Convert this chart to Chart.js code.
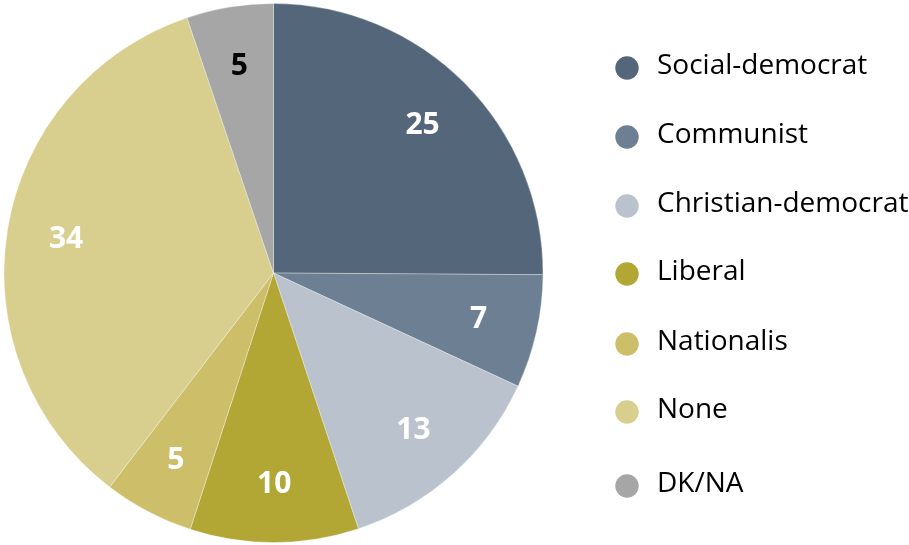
<!DOCTYPE html>
<html>
<head>
<meta charset="utf-8">
<script src="https://cdn.jsdelivr.net/npm/chart.js@4"></script>
<style>
html,body{margin:0;padding:0;background:#fff;}
#wrap{width:909px;height:545px;position:relative;}
</style>
</head>
<body>
<div id="wrap"><canvas id="c" width="909" height="545"></canvas></div>
<script>
const categories = ["Social-democrat","Communist","Christian-democrat","Liberal","Nationalis","None","DK/NA"];
const values = [25.1, 6.8, 13.0, 10.1, 5.4, 34.4, 5.2];
const shownLabels = ["25", "7", "13", "10", "5", "34", "5"];
const colors = ["#546679","#6d7f92","#bac3cd","#b2a634","#cdbf6a","#d8cf8e","#a6a6a6"];
const labelColors = ["#ffffff","#ffffff","#ffffff","#ffffff","#ffffff","#ffffff","#000000"];
const legendY = [66, 135, 204, 272, 342, 410, 484];
const FONT = "'Open Sans', Lato, sans-serif";

const sliceLabels = {
  id: 'sliceLabels',
  afterDatasetsDraw(chart) {
    const ctx = chart.ctx;
    const meta = chart.getDatasetMeta(0);
    ctx.save();
    ctx.font = "bold 30px " + FONT;
    ctx.textAlign = 'center';
    ctx.textBaseline = 'middle';
    meta.data.forEach((arc, i) => {
      const p = arc.getProps(['x','y','startAngle','endAngle','outerRadius'], true);
      const mid = (p.startAngle + p.endAngle) / 2;
      const r = p.outerRadius * 0.78;
      ctx.fillStyle = labelColors[i];
      ctx.fillText(shownLabels[i], p.x + Math.cos(mid) * r, p.y + Math.sin(mid) * r + 1);
    });
    ctx.restore();
  }
};

const customLegend = {
  id: 'customLegend',
  afterDraw(chart) {
    const ctx = chart.ctx;
    ctx.save();
    ctx.font = "28px " + FONT;
    ctx.textBaseline = 'middle';
    ctx.textAlign = 'left';
    chart.data.labels.forEach((lab, i) => {
      const y = legendY[i];
      ctx.beginPath();
      ctx.arc(627, y + 2, 11.7, 0, Math.PI * 2);
      ctx.fillStyle = colors[i];
      ctx.fill();
      ctx.fillStyle = '#000000';
      ctx.fillText(lab, 657, y);
    });
    ctx.restore();
  }
};

new Chart(document.getElementById('c'), {
  type: 'pie',
  data: {
    labels: categories,
    datasets: [{
      data: values,
      backgroundColor: colors,
      borderColor: 'rgba(255,255,255,0.3)',
      borderWidth: 1
    }]
  },
  options: {
    responsive: false,
    animation: false,
    layout: { padding: { left: 2, right: 364, top: 3, bottom: 2 } },
    plugins: {
      legend: { display: false },
      tooltip: { enabled: false }
    }
  },
  plugins: [sliceLabels, customLegend]
});
</script>
</body>
</html>
